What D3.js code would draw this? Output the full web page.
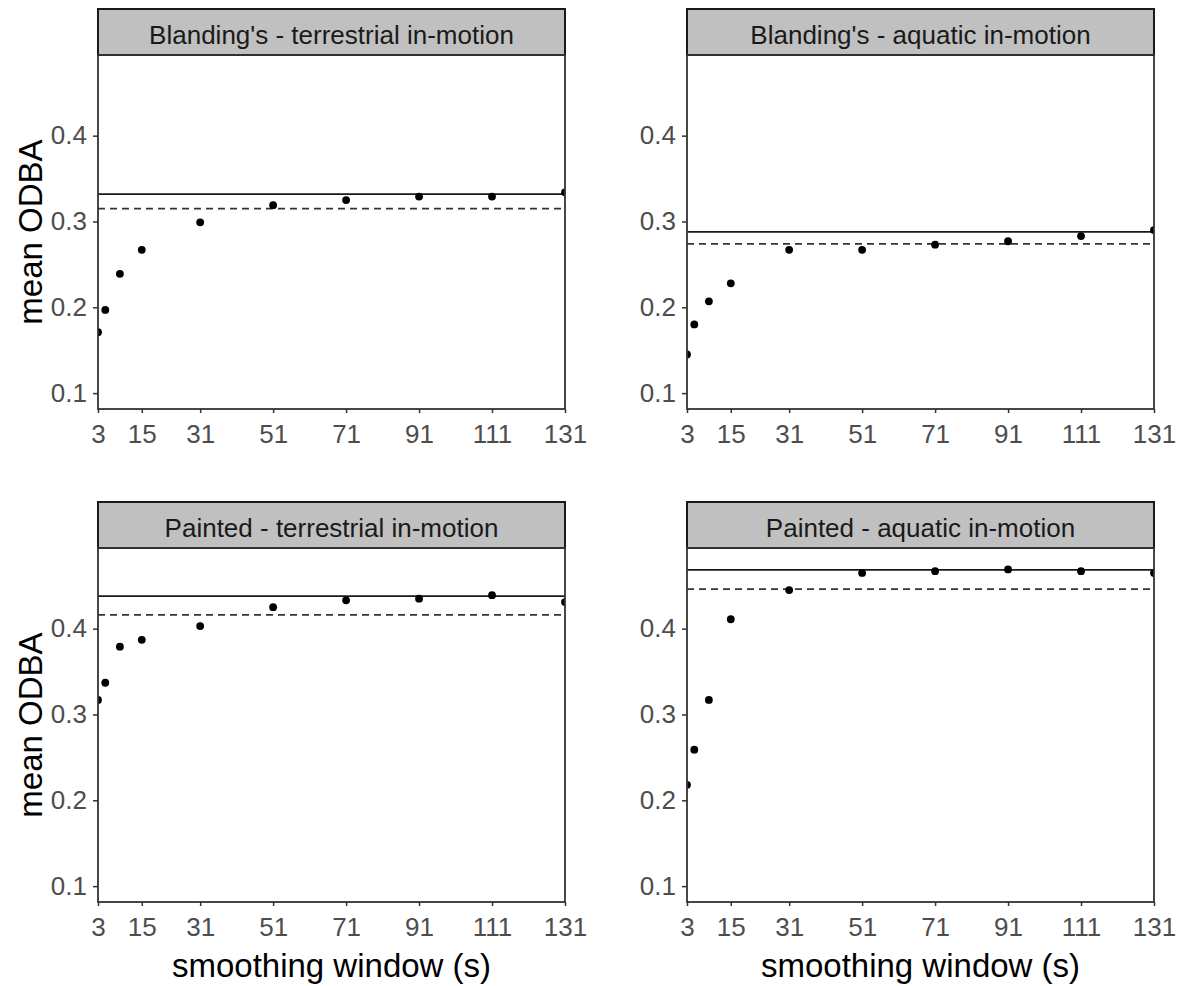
<!DOCTYPE html>
<html>
<head>
<meta charset="utf-8">
<script src="https://cdn.jsdelivr.net/npm/d3@7"></script>
<style>
  body { margin: 0; background: #fff; }
  text { font-family: "Liberation Sans", Arial, sans-serif; }
</style>
</head>
<body>
<div id="chart"></div>
<script>
// smoothing windows (s)
const windows = [3, 5, 9, 15, 31, 51, 71, 91, 111, 131];
const xTicks = [3, 15, 31, 51, 71, 91, 111, 131];
const yTicks = [0.1, 0.2, 0.3, 0.4];

const panelTitles = [
    "Blanding's - terrestrial in-motion",
    "Blanding's - aquatic in-motion",
    "Painted - terrestrial in-motion",
    "Painted - aquatic in-motion"
];

// mean ODBA per window
const blandingTerrestrial = [0.171, 0.197, 0.239, 0.267, 0.299, 0.319, 0.325, 0.329, 0.329, 0.334];
const blandingAquatic = [0.145, 0.180, 0.207, 0.228, 0.267, 0.267, 0.273, 0.277, 0.283, 0.290];
const paintedTerrestrial = [0.317, 0.337, 0.379, 0.387, 0.403, 0.425, 0.433, 0.435, 0.439, 0.431];
const paintedAquatic = [0.218, 0.259, 0.317, 0.411, 0.445, 0.465, 0.467, 0.469, 0.467, 0.465];

// reference lines (solid / dashed)
const solidLine = [0.332, 0.288, 0.438, 0.4685];
const dashedLine = [0.315, 0.274, 0.416, 0.446];

const series = [blandingTerrestrial, blandingAquatic, paintedTerrestrial, paintedAquatic];

var width = 1182, height = 986;
var plotW = 467, plotH = 354, stripH = 46;
var cols = [98, 687], rows = [55, 548];

let svg = d3.select("#chart")
    .append("svg")
    .attr("width", width)
    .attr("height", height);

const x = d3.scaleLinear().domain([3, 131]).range([0, plotW]);
const y = d3.scaleLinear().domain([0.0815, 0.494]).range([plotH, 0]);

series.forEach(function (vals, i) {
    const col = i % 2, row = Math.floor(i / 2);
    const g = svg.append("g")
        .attr("transform", "translate(" + cols[col] + "," + rows[row] + ")");

    // clip
    g.append("clipPath").attr("id", "clip" + i)
        .append("rect").attr("width", plotW).attr("height", plotH);

    // strip
    g.append("rect")
        .attr("x", 0).attr("y", -stripH)
        .attr("width", plotW).attr("height", stripH)
        .attr("fill", "#c0c0c0")
        .attr("stroke", "#1a1a1a")
        .attr("stroke-width", 2);
    g.append("text")
        .attr("x", plotW / 2).attr("y", -stripH / 2)
        .attr("dy", "0.45em")
        .attr("text-anchor", "middle")
        .attr("font-size", 26)
        .attr("fill", "#1a1a1a")
        .text(panelTitles[i]);

    const plot = g.append("g").attr("clip-path", "url(#clip" + i + ")");

    // reference lines
    plot.append("line")
        .attr("x1", 0).attr("x2", plotW)
        .attr("y1", y(solidLine[i])).attr("y2", y(solidLine[i]))
        .attr("stroke", "#1a1a1a").attr("stroke-width", 1.8);
    plot.append("line")
        .attr("x1", 0).attr("x2", plotW)
        .attr("y1", y(dashedLine[i])).attr("y2", y(dashedLine[i]))
        .attr("stroke", "#333").attr("stroke-width", 1.8)
        .attr("stroke-dasharray", "7,5");

    // points
    plot.selectAll("circle")
        .data(windows.map(function (w, j) { return { w: w, v: vals[j] }; }))
        .enter()
        .append("circle")
        .attr("cx", function (d) { return x(d.w); })
        .attr("cy", function (d) { return y(d.v); })
        .attr("r", 3.9)
        .attr("fill", "#000");

    // panel border
    g.append("rect")
        .attr("width", plotW).attr("height", plotH)
        .attr("fill", "none")
        .attr("stroke", "#333")
        .attr("stroke-width", 1.8);

    // X axis
    const xa = g.append("g")
        .attr("transform", "translate(0," + plotH + ")")
        .call(d3.axisBottom(x).tickValues(xTicks).tickSize(4).tickPadding(12));
    xa.select(".domain").remove();
    xa.selectAll("line").attr("stroke", "#333").attr("stroke-width", 1.5);
    xa.selectAll("text")
        .attr("font-size", 26)
        .attr("fill", "#4d4d4d")
        .attr("font-family", "Liberation Sans, Arial, sans-serif");

    // Y axis
    const ya = g.append("g")
        .call(d3.axisLeft(y).tickValues(yTicks).tickFormat(d3.format(".1f")).tickSize(5).tickPadding(6));
    ya.select(".domain").remove();
    ya.selectAll("line").attr("stroke", "#333").attr("stroke-width", 1.5);
    ya.selectAll("text")
        .attr("font-size", 26)
        .attr("fill", "#4d4d4d")
        .attr("font-family", "Liberation Sans, Arial, sans-serif");

    // axis titles
    if (col === 0) {
        g.append("text")
            .attr("transform", "translate(-56," + (plotH / 2) + ")rotate(-90)")
            .attr("text-anchor", "middle")
            .attr("font-size", 33)
            .attr("fill", "#000")
            .text("mean ODBA");
    }
    if (row === 1) {
        g.append("text")
            .attr("x", plotW / 2).attr("y", plotH + 75)
            .attr("text-anchor", "middle")
            .attr("font-size", 33)
            .attr("fill", "#000")
            .text("smoothing window (s)");
    }
});
</script>
</body>
</html>
